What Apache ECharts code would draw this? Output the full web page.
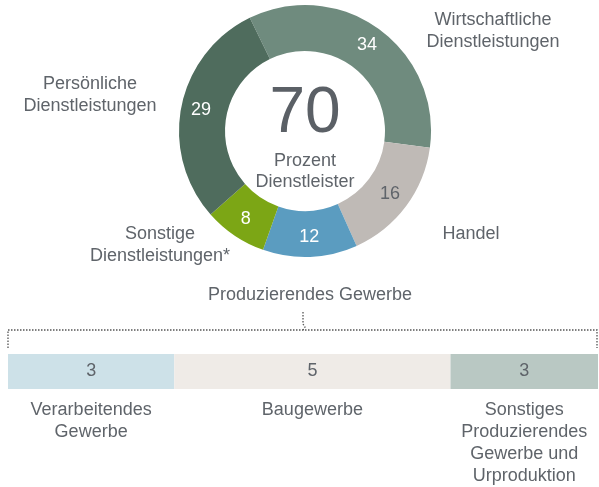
<!DOCTYPE html>
<html>
<head>
<meta charset="utf-8">
<script src="https://cdn.jsdelivr.net/npm/echarts@6/dist/echarts.min.js"></script>
<style>
  html, body { margin: 0; padding: 0; background: #fff; }
  #chart { width: 599px; height: 487px; }
</style>
</head>
<body>
<div id="chart"></div>
<script>
// Dienstleister (Ring)
var ringNames = ['Wirtschaftliche\nDienstleistungen', 'Handel', 'Produzierendes Gewerbe', 'Sonstige\nDienstleistungen*', 'Persönliche\nDienstleistungen'];
var ringValues = [34, 16, 12, 8, 29];
var ringColors = ['#6f8b7e', '#bfbab6', '#5b9cc0', '#7ca615', '#4f6c5d'];
var ringLabelPos = [[493, 31], [471, 234], null, [160, 245], [90, 95]];

// Produzierendes Gewerbe (Balken)
var barNames = ['Verarbeitendes\nGewerbe', 'Baugewerbe', 'Sonstiges\nProduzierendes\nGewerbe und\nUrproduktion'];
var barValues = [3.1, 5.15, 2.75];
var barLabels = ['3', '5', '3'];
var barColors = ['#cde1e8', '#efebe7', '#b9c8c3'];

var centerValue = '70';
var centerText = 'Prozent\nDienstleister';

var textColor = '#5f646a';
var font = 'Liberation Sans, Arial, sans-serif';

var myChart = echarts.init(document.getElementById('chart'));

var graphics = [
  {
    type: 'text',
    style: { text: centerValue, x: 305, y: 114, align: 'center', verticalAlign: 'middle',
      font: '64px ' + font, fill: '#5b6066' }
  },
  {
    type: 'text',
    style: { text: centerText, x: 305, y: 172, align: 'center', verticalAlign: 'middle',
      font: '18px ' + font, lineHeight: 21, fill: textColor }
  },
  {
    type: 'text',
    style: { text: 'Produzierendes Gewerbe', x: 310, y: 295, align: 'center', verticalAlign: 'middle',
      font: '18px ' + font, fill: textColor }
  },
  // Klammer
  {
    type: 'polyline',
    shape: { points: [[8, 348], [8, 330], [597, 330], [597, 348]] },
    style: { stroke: '#555', lineWidth: 1.3, lineDash: [1.5, 1.5], fill: null }
  },
  {
    type: 'polyline',
    shape: { points: [[303, 312], [303, 324], [305, 327], [303, 330]] },
    style: { stroke: '#555', lineWidth: 1.3, lineDash: [1.5, 1.5], fill: null }
  }
];

ringNames.forEach(function (n, i) {
  if (!ringLabelPos[i]) return;
  graphics.push({
    type: 'text',
    style: { text: n, x: ringLabelPos[i][0], y: ringLabelPos[i][1], align: 'center', verticalAlign: 'middle',
      font: '18px ' + font, lineHeight: 22, fill: textColor }
  });
});

var barSeries = barValues.map(function (v, i) {
  return {
    type: 'bar',
    stack: 'pg',
    barWidth: 35,
    silent: true,
    data: [
      { value: v, itemStyle: { color: barColors[i] },
        label: { show: true, position: 'inside', formatter: barLabels[i], color: textColor, fontSize: 18, fontFamily: font } },
      { value: v, itemStyle: { color: 'rgba(0,0,0,0)' },
        label: { show: true, position: 'insideTop', distance: 10, formatter: barNames[i], color: textColor,
          fontSize: 18, fontFamily: font, lineHeight: 22 } }
    ]
  };
});

myChart.setOption({
  animation: false,
  graphic: graphics,
  grid: { left: 8, right: 1, top: 354, height: 70 },
  xAxis: { type: 'value', min: 0, max: 11, show: false },
  yAxis: { type: 'category', inverse: true, data: ['Wert', 'Name'], show: false },
  series: [
    {
      type: 'pie',
      center: [305, 131],
      radius: [80, 126],
      startAngle: 116,
      clockwise: true,
      silent: true,
      label: { show: true, position: 'inside', fontSize: 18, fontFamily: font, color: '#fff', formatter: '{c}' },
      labelLine: { show: false },
      itemStyle: { borderWidth: 0 },
      data: ringValues.map(function (v, i) {
        return {
          name: ringNames[i], value: v, itemStyle: { color: ringColors[i] },
          label: i === 1 ? { color: '#5f646a' } : {}
        };
      })
    }
  ].concat(barSeries)
});
</script>
</body>
</html>
